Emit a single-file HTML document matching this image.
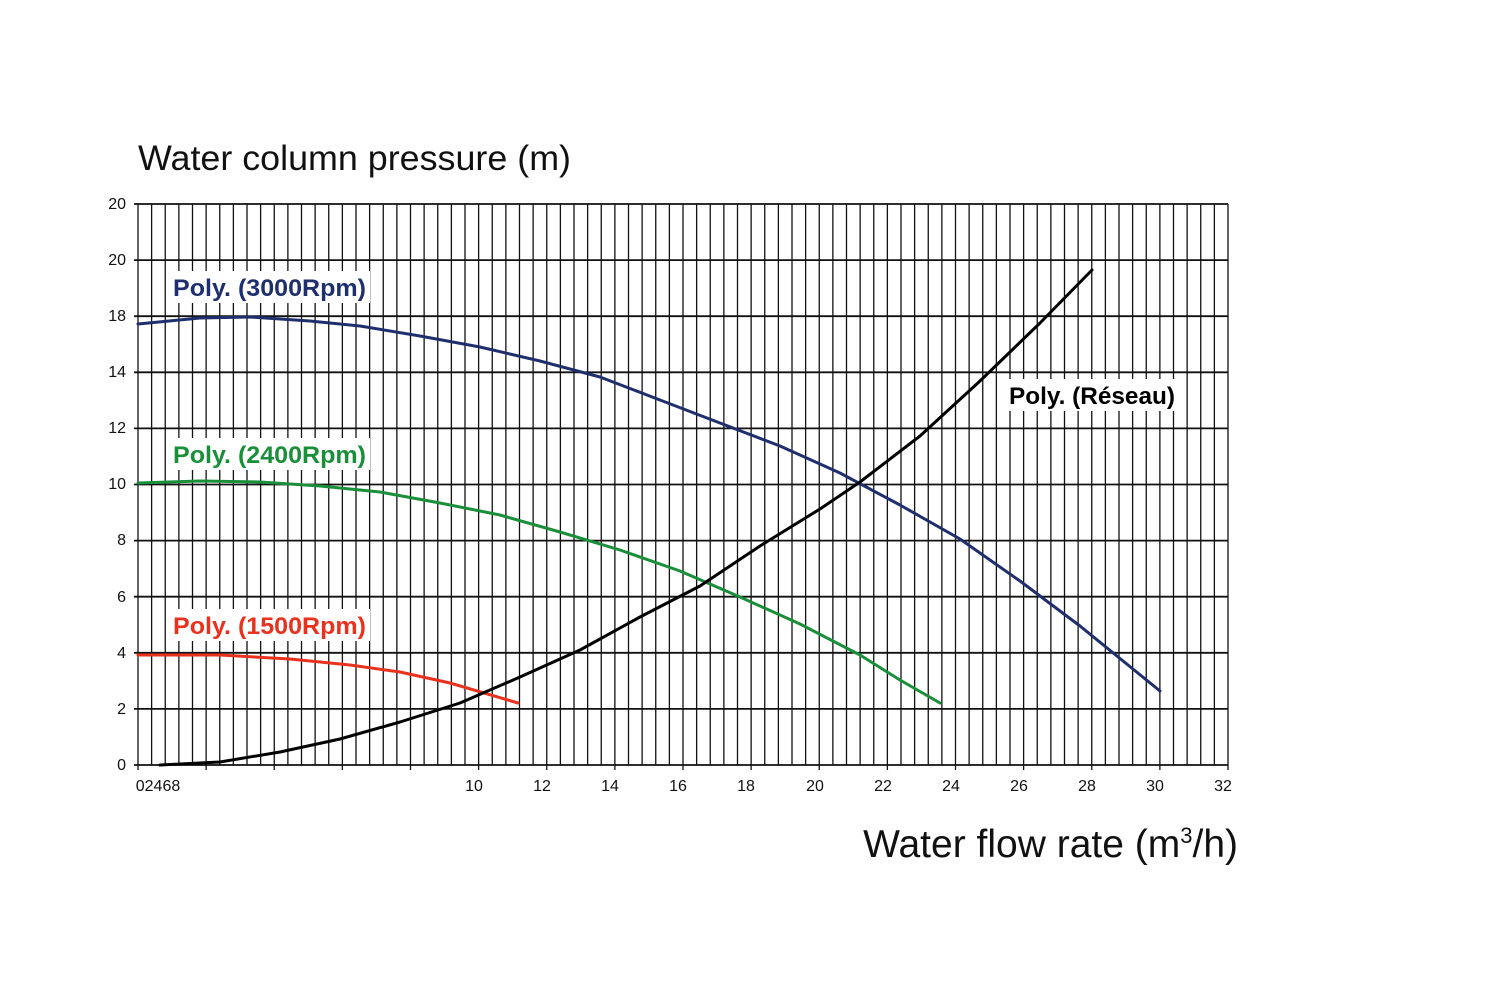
<!DOCTYPE html>
<html><head><meta charset="utf-8"><style>
body{margin:0;background:#fff}
svg{display:block}
text{font-family:"Liberation Sans",sans-serif}
</style></head><body>
<svg width="1500" height="1000" viewBox="0 0 1500 1000" xmlns="http://www.w3.org/2000/svg">
<rect width="1500" height="1000" fill="#fff"/>
<g id="grid" stroke="#111" stroke-width="1.3"></g>
<script><![CDATA[
(function(){
var ns="http://www.w3.org/2000/svg",g=document.getElementById('grid');
function ln(x1,y1,x2,y2,w){var l=document.createElementNS(ns,'line');l.setAttribute('x1',x1);l.setAttribute('y1',y1);l.setAttribute('x2',x2);l.setAttribute('y2',y2);if(w)l.setAttribute('stroke-width',w);g.appendChild(l);}
for(var i=0;i<=80;i++){var x=138+i*13.625;ln(x,204,x,765);}
for(var j=0;j<=10;j++){var y=765-j*56.1;ln(134,y,1228,y,1.8);}
for(var k=0;k<=16;k++){var x=138+k*68.125;ln(x,765,x,770,1.3);}
})();
]]></script>
<g font-size="16" fill="#111" text-anchor="end">
<text x="126" y="770">0</text><text x="126" y="714">2</text><text x="126" y="658">4</text>
<text x="126" y="602">6</text><text x="126" y="545">8</text><text x="126" y="489">10</text>
<text x="126" y="433">12</text><text x="126" y="377">14</text><text x="126" y="321">18</text>
<text x="126" y="265">20</text><text x="126" y="209">20</text>
</g>
<g font-size="16" fill="#111" text-anchor="middle">
<text x="158" y="791">02468</text>
<text x="474" y="791">10</text><text x="542" y="791">12</text><text x="610" y="791">14</text>
<text x="678" y="791">16</text><text x="746" y="791">18</text><text x="815" y="791">20</text>
<text x="883" y="791">22</text><text x="951" y="791">24</text><text x="1019" y="791">26</text>
<text x="1087" y="791">28</text><text x="1155" y="791">30</text><text x="1223" y="791">32</text>
</g>
<text x="138" y="170" font-size="35" fill="#111" textLength="433" lengthAdjust="spacingAndGlyphs">Water column pressure (m)</text>
<text x="1238" y="857" font-size="39" fill="#111" text-anchor="end">Water flow rate (m<tspan font-size="22" dy="-14">3</tspan><tspan dy="14">/h)</tspan></text>
<g fill="none" stroke-width="3" stroke-linecap="round" stroke-linejoin="round">
<polyline stroke="#1f2f6e" points="138,324 200,318 250,317 310,321 360,326 420,336 480,347 540,361 600,377 660,400 720,423 780,446 840,473 900,505 960,539 1020,581 1080,626 1160,691"/>
<polyline stroke="#1a8f3a" points="138,483 200,481 260,482 320,486 380,492 440,503 500,515 560,532 620,550 680,571 740,597 800,624 860,655 900,680 940,703"/>
<polyline stroke="#e8321e" points="138,655 220,655 290,659 350,665 400,672 450,683 518,703"/>
<polyline stroke="#000" points="160,765 220,762 280,752 340,739 400,722 460,703 520,677 580,650 640,617 700,586 760,546 820,509 860,482 920,436 980,381 1040,323 1092,270"/>
</g>
<g font-size="24" font-weight="bold">
<rect x="168" y="271" width="202" height="32" fill="#fff"/>
<text x="173" y="296" fill="#1f2f6e" textLength="193" lengthAdjust="spacingAndGlyphs">Poly. (3000Rpm)</text>
<rect x="168" y="438" width="202" height="32" fill="#fff"/>
<text x="173" y="463" fill="#1a8f3a" textLength="193" lengthAdjust="spacingAndGlyphs">Poly. (2400Rpm)</text>
<rect x="168" y="609" width="202" height="32" fill="#fff"/>
<text x="173" y="634" fill="#e8321e" textLength="193" lengthAdjust="spacingAndGlyphs">Poly. (1500Rpm)</text>
<rect x="1004" y="379" width="174" height="32" fill="#fff"/>
<text x="1009" y="404" fill="#000" textLength="166" lengthAdjust="spacingAndGlyphs">Poly. (Réseau)</text>
</g>
</svg>
</body></html>
